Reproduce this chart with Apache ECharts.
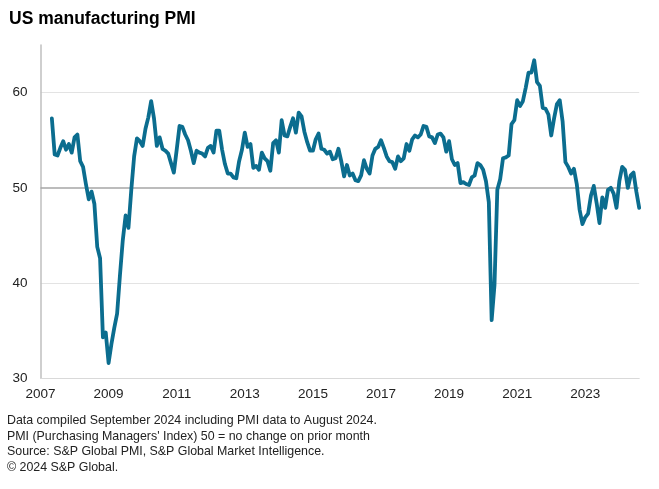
<!DOCTYPE html>
<html>
<head>
<meta charset="utf-8">
<script src="https://cdn.jsdelivr.net/npm/echarts@6/dist/echarts.min.js"></script>
<style>
html,body{margin:0;padding:0;background:#fff;}
#chart{width:659px;height:489px;}
</style>
</head>
<body>
<div id="chart"></div>
<script>
// Monthly values (S&P Global US Manufacturing PMI)
const pmi2007 = [57.3, 53.5, 53.4, 54.2, 54.9, 54.0, 54.6, 53.7]; // May-Dec
const pmi2008 = [55.3, 55.6, 52.8, 52.2, 50.4, 48.8, 49.6, 48.3, 43.8, 42.6, 34.3, 34.8];
const pmi2009 = [31.6, 33.6, 35.3, 36.8, 40.8, 44.5, 47.1, 45.8, 49.8, 53.3, 55.2, 54.9];
const pmi2010 = [54.4, 56.2, 57.4, 59.1, 57.3, 54.4, 55.3, 54.1, 53.9, 53.6, 52.6, 51.6];
const pmi2011 = [54.0, 56.5, 56.4, 55.6, 55.0, 53.9, 52.6, 53.9, 53.7, 53.6, 53.3, 54.2];
const pmi2012 = [54.4, 53.7, 56.0, 56.0, 54.0, 52.5, 51.5, 51.5, 51.1, 51.0, 52.8, 54.0];
const pmi2013 = [55.8, 54.3, 54.6, 52.1, 52.3, 51.9, 53.7, 53.1, 52.8, 51.8, 54.7, 55.0];
const pmi2014 = [53.7, 57.1, 55.5, 55.4, 56.4, 57.3, 55.8, 57.9, 57.5, 55.9, 54.8, 53.9];
const pmi2015 = [53.9, 55.1, 55.7, 54.1, 54.0, 53.6, 53.8, 53.0, 53.1, 54.1, 52.8, 51.2];
const pmi2016 = [52.4, 51.3, 51.5, 50.8, 50.7, 51.3, 52.9, 52.0, 51.5, 53.4, 54.1, 54.3];
const pmi2017 = [55.0, 54.2, 53.3, 52.8, 52.7, 52.0, 53.3, 52.8, 53.1, 54.6, 53.9, 55.1];
const pmi2018 = [55.5, 55.3, 55.6, 56.5, 56.4, 55.4, 55.3, 54.7, 55.6, 55.7, 55.3, 53.8];
const pmi2019 = [54.9, 53.0, 52.4, 52.6, 50.5, 50.6, 50.4, 50.3, 51.1, 51.3, 52.6, 52.4];
const pmi2020 = [51.9, 50.7, 48.5, 36.1, 39.8, 49.8, 50.9, 53.1, 53.2, 53.4, 56.7, 57.1];
const pmi2021 = [59.2, 58.6, 59.1, 60.5, 62.1, 62.1, 63.4, 61.1, 60.7, 58.4, 58.3, 57.7];
const pmi2022 = [55.5, 57.3, 58.8, 59.2, 57.0, 52.7, 52.2, 51.5, 52.0, 50.4, 47.7, 46.2];
const pmi2023 = [46.9, 47.3, 49.2, 50.2, 48.4, 46.3, 49.0, 47.9, 49.8, 50.0, 49.4, 47.9];
const pmi2024 = [50.7, 52.2, 51.9, 50.0, 51.3, 51.6, 49.6, 47.9]; // Jan-Aug

const yearLabels = ['2007','2009','2011','2013','2015','2017','2019','2021','2023'];
const yTicks = [30, 40, 50, 60];
const titleText = 'US manufacturing PMI';
const footnotes = [
  'Data compiled September 2024 including PMI data to August 2024.',
  "PMI (Purchasing Managers' Index) 50 = no change on prior month",
  'Source: S&P Global PMI, S&P Global Market Intelligence.',
  '\u00A9 2024 S&P Global.'
];

// Month categories Jan 2007 .. Aug 2024
const categories = [];
for (let y = 2007; y <= 2024; y++) {
  const last = (y === 2024) ? 8 : 12;
  for (let m = 1; m <= last; m++) {
    categories.push(y + '-' + (m < 10 ? '0' + m : m));
  }
}
const values = [null, null, null, null].concat(
  pmi2007, pmi2008, pmi2009, pmi2010, pmi2011, pmi2012, pmi2013, pmi2014, pmi2015,
  pmi2016, pmi2017, pmi2018, pmi2019, pmi2020, pmi2021, pmi2022, pmi2023, pmi2024
);

const FONT = "'Liberation Sans', Arial, sans-serif";
const chart = echarts.init(document.getElementById('chart'), null, {renderer: 'canvas'});
chart.setOption({
  animation: false,
  backgroundColor: '#ffffff',
  title: {
    text: titleText,
    left: 4, top: 5,
    textStyle: {fontFamily: FONT, fontSize: 17.5, fontWeight: 'bold', color: '#000'}
  },
  grid: {left: 40.5, right: 19.8, top: 45, bottom: 110.7, containLabel: false},
  xAxis: {
    type: 'category',
    data: categories,
    boundaryGap: false,
    axisLine: {show: true, lineStyle: {color: '#d9d9d9', width: 1}},
    axisTick: {show: false},
    splitLine: {show: false},
    axisLabel: {
      interval: function (idx, val) {
        return val.slice(5) === '01' && yearLabels.indexOf(val.slice(0, 4)) >= 0;
      },
      formatter: function (val) { return val.slice(0, 4); },
      margin: 9,
      fontFamily: FONT, fontSize: 13.5, color: '#222'
    }
  },
  yAxis: {
    type: 'value',
    min: 30, max: 65, interval: 10,
    axisLine: {show: true, lineStyle: {color: '#bfbfbf', width: 1.5}},
    axisTick: {show: false},
    axisLabel: {
      showMaxLabel: false,
      margin: 13,
      fontFamily: FONT, fontSize: 13.5, color: '#222',
      formatter: function (v) { return yTicks.indexOf(v) >= 0 ? String(v) : ''; }
    },
    splitLine: {
      show: true,
      lineStyle: {color: ['#d9d9d9', '#e3e3e3', 'rgba(0,0,0,0)', '#e3e3e3', 'rgba(0,0,0,0)'], width: 1}
    }
  },
  series: [{
    type: 'line',
    data: values,
    showSymbol: false,
    symbol: 'none',
    connectNulls: false,
    lineStyle: {color: '#0b6d8f', width: 3.8, join: 'round', cap: 'round'},
    markLine: {
      silent: true,
      symbol: ['none', 'none'],
      label: {show: false},
      lineStyle: {color: '#a6a6a6', width: 1.6, type: 'solid'},
      data: [{yAxis: 50}],
      z: 1
    },
    z: 3
  }],
  graphic: [{
    type: 'text',
    left: 7, top: 413,
    style: {
      text: footnotes.join('\n'),
      fontFamily: FONT, fontSize: 12.4, lineHeight: 15.5,
      fill: '#222'
    }
  }]
});
</script>
</body>
</html>
